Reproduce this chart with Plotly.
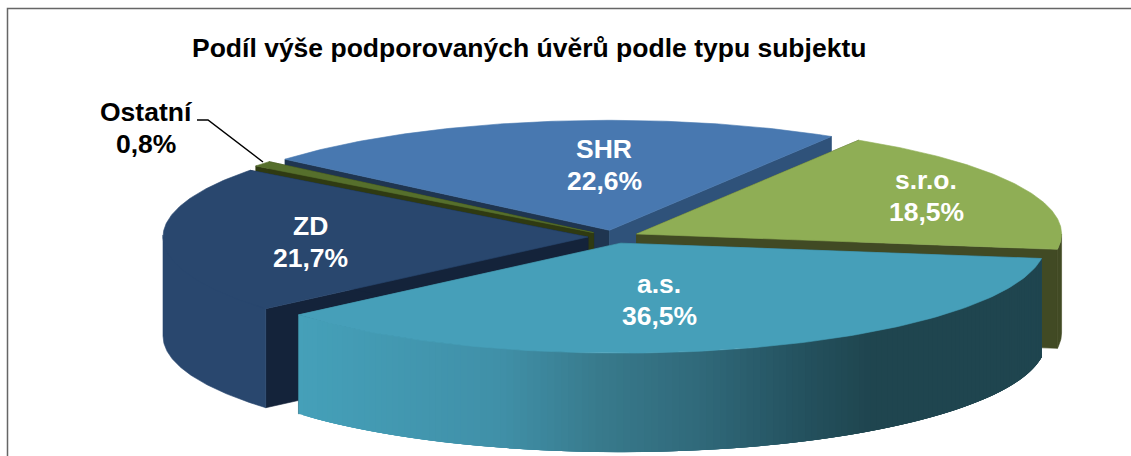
import math
import plotly.graph_objects as go

# Data
categories = ["s.r.o.", "a.s.", "ZD", "Ostatní", "SHR"]
shares = [18.5, 36.5, 21.7, 0.8, 22.6]
title_text = "Podíl výše podporovaných úvěrů podle typu subjektu"

# Styling
top_colors = ["#8FAE55", "#469FB9", "#29476E", "#566F2C", "#4878B0"]
wall_colors = ["#414A24", None, "#29476E", "#3A4A18", "#2F527A"]
cut_start_colors = ["#414A24", "#2C6070", "#14233A", "#2F3A12", "#1F3550"]
cut_end_colors = ["#414A24", "#2C6070", "#14233A", "#2F3A12", "#2F527A"]
label_colors = ["white", "white", "white", "black", "white"]
label_xy = [(926, 196), (659, 300), (310, 242), (146, 128), (604, 165)]
paint_order = [4, 0, 3, 2, 1]

W, H = 1131, 456
CX, CY, RX, RY, DEPTH, EXPLODE = 613.5, 236.8, 425, 110, 99, 0.06
START_DEG = -58.5
GRADIENT = [(299, (69, 160, 185)), (500, (64, 144, 168)), (600, (56, 122, 140)),
            (700, (48, 105, 122)), (800, (36, 82, 95)), (870, (31, 69, 79)),
            (1060, (31, 69, 79))]


def grad(x):
    for (x0, c0), (x1, c1) in zip(GRADIENT, GRADIENT[1:]):
        if x <= x1:
            t = max(0, (x - x0) / (x1 - x0))
            return "rgb(%d,%d,%d)" % tuple(round(a + (b - a) * t) for a, b in zip(c0, c1))
    return "rgb(31,69,79)"


fig = go.Figure()


def poly(pts, color, lw=0.6):
    xs = [p[0] for p in pts] + [pts[0][0]]
    ys = [p[1] for p in pts] + [pts[0][1]]
    fig.add_trace(go.Scatter(x=xs, y=ys, mode="lines", fill="toself", fillcolor=color,
                             line=dict(color=color, width=lw), hoverinfo="skip", showlegend=False))


total = sum(shares)
spans = []
a = START_DEG
for s in shares:
    b = a + s / total * 360
    spans.append((a, b))
    a = b


def arc(ax, ay, a0, a1, n):
    return [(ax + RX * math.cos(math.radians(a0 + (a1 - a0) * i / n)),
             ay + RY * math.sin(math.radians(a0 + (a1 - a0) * i / n))) for i in range(n + 1)]


for i in paint_order:
    a0, a1 = spans[i]
    mid = math.radians((a0 + a1) / 2)
    ax = CX + EXPLODE * RX * math.cos(mid)
    ay = CY + EXPLODE * RY * math.sin(mid)
    edge = arc(ax, ay, a0, a1, 120)
    # cut faces
    for p, col in ((edge[0], cut_start_colors[i]), (edge[-1], cut_end_colors[i])):
        poly([(ax, ay), p, (p[0], p[1] + DEPTH), (ax, ay + DEPTH)], col)
    # visible outer wall
    w0, w1 = max(a0, 0), min(a1, 180)
    if w1 > w0:
        m = max(2, int(w1 - w0) * 2)
        if wall_colors[i] is None:
            pts = list(reversed(arc(ax, ay, w0, w1, 140)))
            for k in range(len(pts) - 1):
                band = pts[k:k + 5]
                poly(band + [(p[0], p[1] + DEPTH) for p in reversed(band)],
                     grad((pts[k][0] + pts[k + 1][0]) / 2), lw=0)
        else:
            pts = arc(ax, ay, w0, w1, m)
            lift = 2 if w1 - w0 > 20 else 0  # same colour as the top: hide the seam under it
            poly([(p[0], p[1] - lift) for p in pts] + [(p[0], p[1] + DEPTH) for p in reversed(pts)],
                 wall_colors[i])
    poly([(ax, ay)] + edge, top_colors[i])

FS = 26.5
ann = []
for c, s, (x, y), col in zip(categories, shares, label_xy, label_colors):
    for text, dy in ((c, -16), (f"{s:.1f}".replace(".", ",") + "%", 16)):
        ann.append(dict(x=x, y=y + dy, xref="x", yref="y", showarrow=False,
                        text="<b>%s</b>" % text,
                        font=dict(family="Liberation Sans", size=FS, color=col)))
ann.append(dict(x=529, y=48, xref="x", yref="y", showarrow=False, text="<b>%s</b>" % title_text,
                font=dict(family="Liberation Sans", size=FS, color="black")))

# Leader line for Ostatní
fig.add_trace(go.Scatter(x=[197, 208, 263], y=[120, 120, 162], mode="lines",
                         line=dict(color="black", width=1.5), hoverinfo="skip", showlegend=False))
# Chart frame
fig.add_trace(go.Scatter(x=[7.5, 7.5, W], y=[H, 8.5, 8.5], mode="lines",
                         line=dict(color="#666666", width=1.5), hoverinfo="skip", showlegend=False))

fig.update_layout(
    width=W, height=H, margin=dict(l=0, r=0, t=0, b=0), autosize=False,
    paper_bgcolor="white", plot_bgcolor="white", showlegend=False, annotations=ann,
    xaxis=dict(range=[0, W], visible=False, fixedrange=True),
    yaxis=dict(range=[H, 0], visible=False, fixedrange=True),
)
fig.write_html("out.html", config={"displayModeBar": False},
               post_script="document.body.style.margin='0';document.body.style.overflow='hidden';")
